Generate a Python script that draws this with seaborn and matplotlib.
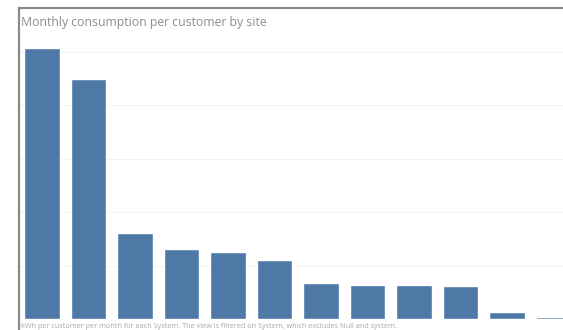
import matplotlib
matplotlib.use("Agg")
import matplotlib.pyplot as plt
import seaborn as sns
import pandas as pd

sites = ["Site 1", "Site 2", "Site 3", "Site 4", "Site 5", "Site 6",
         "Site 7", "Site 8", "Site 9", "Site 10", "Site 11", "Site 12"]
consumption = [507, 449, 161, 132, 125, 111, 68, 65, 64, 62, 14, 4]
grid_ticks = [100, 200, 300, 400, 500]
title = "Monthly consumption per customer by site"
footer = ("kWh per customer per month for each System. The view is filtered on System, "
          "which excludes Null and system.")

sns.set_theme(style="white")
plt.rcParams['font.family'] = ['Open Sans', 'DejaVu Sans']

df = pd.DataFrame({"site": sites, "value": consumption})

W, H = 563, 330
fig = plt.figure(figsize=(W / 100, H / 100), dpi=100)
left_px, top_px = 18.7, 7.5
ax = fig.add_axes([left_px / W, 0.0, 558 / W, 1 - top_px / H])

sns.barplot(data=df, x="site", y="value", color="#4e79a7", width=0.76,
            saturation=1, ax=ax, zorder=3)

ax.set_xlim(-0.5, 11.5)
ax.set_ylim(-20, 582.8)
ax.set_yticks(grid_ticks)
ax.yaxis.grid(True, color="#f2f2f2", linewidth=0.8, zorder=0)
ax.xaxis.grid(False)
ax.set_xticks([])
ax.tick_params(axis="y", length=0, labelleft=False)
ax.set_xlabel("")
ax.set_ylabel("")
for s in ["right", "bottom"]:
    ax.spines[s].set_visible(False)
for s in ["top", "left"]:
    ax.spines[s].set_color("#8a8a8a")
    ax.spines[s].set_linewidth(1.6)

ax.text(0.004, 0.952, title, transform=ax.transAxes, fontsize=8.8,
        color="#8c8c8c", ha="left", va="center")
ax.text(0.005, 0.01, footer, transform=ax.transAxes, fontsize=5.2,
        color="#a8a8a8", ha="left", va="center")

fig.savefig("out.png", dpi=100)
